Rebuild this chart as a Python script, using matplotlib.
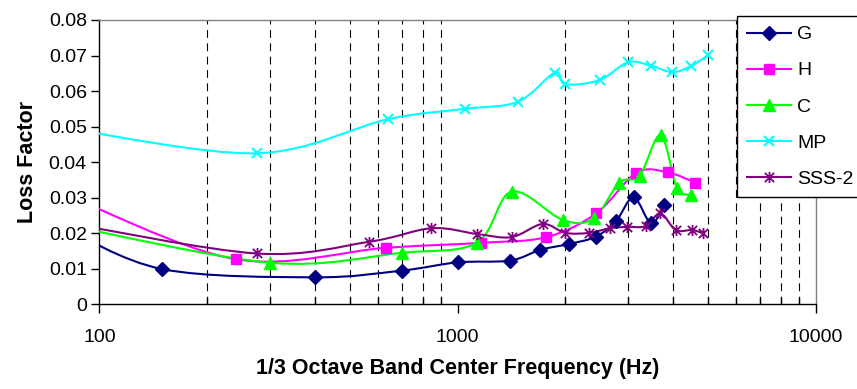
import numpy as np
import matplotlib
matplotlib.use("Agg")
import matplotlib.pyplot as plt
from matplotlib.path import Path
from matplotlib.patches import PathPatch
from matplotlib.lines import Line2D
from matplotlib.ticker import FixedLocator, FuncFormatter, NullFormatter

plt.rcParams["font.family"] = ["Liberation Sans", "DejaVu Sans"]

# Loss factor vs 1/3 octave band frequency (first point lies just left of the axis)
g_freq = [80, 150, 400, 700, 1000, 1400, 1700, 2050, 2430, 2770, 3100, 3470, 3780]
g_loss = [0.0215, 0.0099, 0.0076, 0.0095, 0.0118, 0.0123, 0.0153, 0.0170, 0.0190,
          0.0234, 0.0301, 0.0228, 0.0279]

h_freq = [80, 240, 630, 1160, 1770, 2440, 3160, 3870, 4610]
h_loss = [0.0310, 0.0127, 0.0159, 0.0173, 0.0189, 0.0256, 0.0370, 0.0371, 0.0342]

c_freq = [80, 300, 700, 1130, 1415, 1970, 2400, 2825, 3225, 3690, 4100, 4500]
c_loss = [0.0224, 0.0117, 0.0145, 0.0173, 0.0317, 0.0237, 0.0242, 0.0342, 0.0362,
          0.0476, 0.0328, 0.0308]

mp_freq = [80, 275, 640, 1050, 1475, 1870, 2000, 2495, 2990, 3480, 3980, 4500, 5000]
mp_loss = [0.0496, 0.0425, 0.0521, 0.0550, 0.0570, 0.0652, 0.0619, 0.0631, 0.0681,
           0.0671, 0.0653, 0.0671, 0.0701]

sss_freq = [80, 275, 567, 846, 1130, 1415, 1727, 2000, 2330, 2660, 2980, 3350, 3685,
            4065, 4515, 4845]
sss_loss = [0.0230, 0.0143, 0.0176, 0.0214, 0.0198, 0.0189, 0.0226, 0.0201, 0.0201,
            0.0214, 0.0218, 0.0220, 0.0256, 0.0209, 0.0209, 0.0200]

labels = ["G", "H", "C", "MP", "SSS-2"]
colors = ["#000080", "#FF00FF", "#00FF00", "#00FFFF", "#800080"]

XMIN, XMAX, YMIN, YMAX = 100, 10000, 0, 0.08

# Excel-like asterisk marker: an x with a vertical bar
star = Path([(-1, -1), (1, 1), (-1, 1), (1, -1), (0, -1.2), (0, 1.2)],
            [Path.MOVETO, Path.LINETO, Path.MOVETO, Path.LINETO, Path.MOVETO, Path.LINETO])
markers = [("D", 7, None), ("s", 6.5, None), ("^", 8, None), ("x", 7.5, 1.5), (star, 8, 1.3)]


def smooth_path(freq, loss):
    """Bezier path like Excel's smoothed line, built in log-x / axis space."""
    u = (np.log10(freq) - np.log10(XMIN)) / (np.log10(XMAX) - np.log10(XMIN))
    v = (np.asarray(loss) - YMIN) / (YMAX - YMIN)
    pts = np.column_stack([u, v])
    n = len(pts)
    verts = [pts[0]]
    codes = [Path.MOVETO]
    for i in range(n - 1):
        p0 = pts[i - 1] if i > 0 else pts[i]
        p1, p2 = pts[i], pts[i + 1]
        p3 = pts[i + 2] if i + 2 < n else pts[i + 1]
        verts += [p1 + (p2 - p0) / 6, p2 - (p3 - p1) / 6, p2]
        codes += [Path.CURVE4] * 3
    verts = np.array(verts)
    x = 10 ** (np.log10(XMIN) + verts[:, 0] * (np.log10(XMAX) - np.log10(XMIN)))
    y = YMIN + verts[:, 1] * (YMAX - YMIN)
    return Path(np.column_stack([x, y]), codes)


fig = plt.figure(figsize=(8.57, 3.89), dpi=100)
ax = fig.add_axes([0.1159, 0.2177, 0.9518 - 0.1159, 0.9486 - 0.2177])
ax.set_xscale("log")
ax.set_xlim(XMIN, XMAX)
ax.set_ylim(YMIN, YMAX)

series = [(g_freq, g_loss), (h_freq, h_loss), (c_freq, c_loss),
          (mp_freq, mp_loss), (sss_freq, sss_loss)]
handles = []
for (fr, ls), col, lab, (mk, ms, mew) in zip(series, colors, labels, markers):
    ax.add_patch(PathPatch(smooth_path(fr, ls), fill=False, ec=col, lw=1.5, zorder=3))
    kw = dict(color=col, marker=mk, ms=ms, ls="none", zorder=4)
    if mew:
        kw["mew"] = mew
    ax.plot(fr, ls, **kw)
    handles.append(Line2D([], [], color=col, lw=1.5, marker=mk, ms=ms,
                          mew=mew if mew else 1.0, label=lab))

# vertical dashed gridlines at minor positions only
minor = [m * d for d in (100, 1000) for m in range(2, 10)]
ax.xaxis.set_major_locator(FixedLocator([100, 1000, 10000]))
ax.xaxis.set_minor_locator(FixedLocator(minor))
ax.xaxis.set_major_formatter(FuncFormatter(lambda v, p: f"{int(v)}"))
ax.xaxis.set_minor_formatter(NullFormatter())
ax.grid(which="minor", axis="x", color="black", lw=0.8, ls=(0, (7, 5)))
ax.set_yticks(np.arange(0, 0.081, 0.01))
ax.yaxis.set_major_formatter(FuncFormatter(lambda v, p: f"{v:g}" if v > 1e-9 else "0"))

ax.tick_params(axis="x", which="major", direction="out", length=6.5, width=1,
               labelsize=14, pad=11)
ax.tick_params(axis="x", which="minor", direction="in", length=5, width=1)
ax.tick_params(axis="y", direction="out", length=6, width=1, labelsize=14, pad=3)

for s in ("left", "bottom"):
    ax.spines[s].set_color("black")
    ax.spines[s].set_linewidth(1)
for s in ("top", "right"):
    ax.spines[s].set_color("#808080")
    ax.spines[s].set_linewidth(1)

ax.set_xlabel("1/3 Octave Band Center Frequency (Hz)", fontsize=15.5, fontweight="bold",
              labelpad=9)
ax.set_ylabel("Loss Factor", fontsize=15.5, fontweight="bold", labelpad=8)

leg = fig.legend(handles=handles, loc="upper left",
                 bbox_to_anchor=(737 / 857, 1 - 16 / 389), bbox_transform=fig.transFigure,
                 borderaxespad=0, fontsize=14, frameon=True, fancybox=False,
                 edgecolor="black", framealpha=1, numpoints=1, handlelength=2.3,
                 handletextpad=0.3, labelspacing=0.95, borderpad=0.5)
leg.get_frame().set_linewidth(1)

fig.savefig("out.png", dpi=100)
